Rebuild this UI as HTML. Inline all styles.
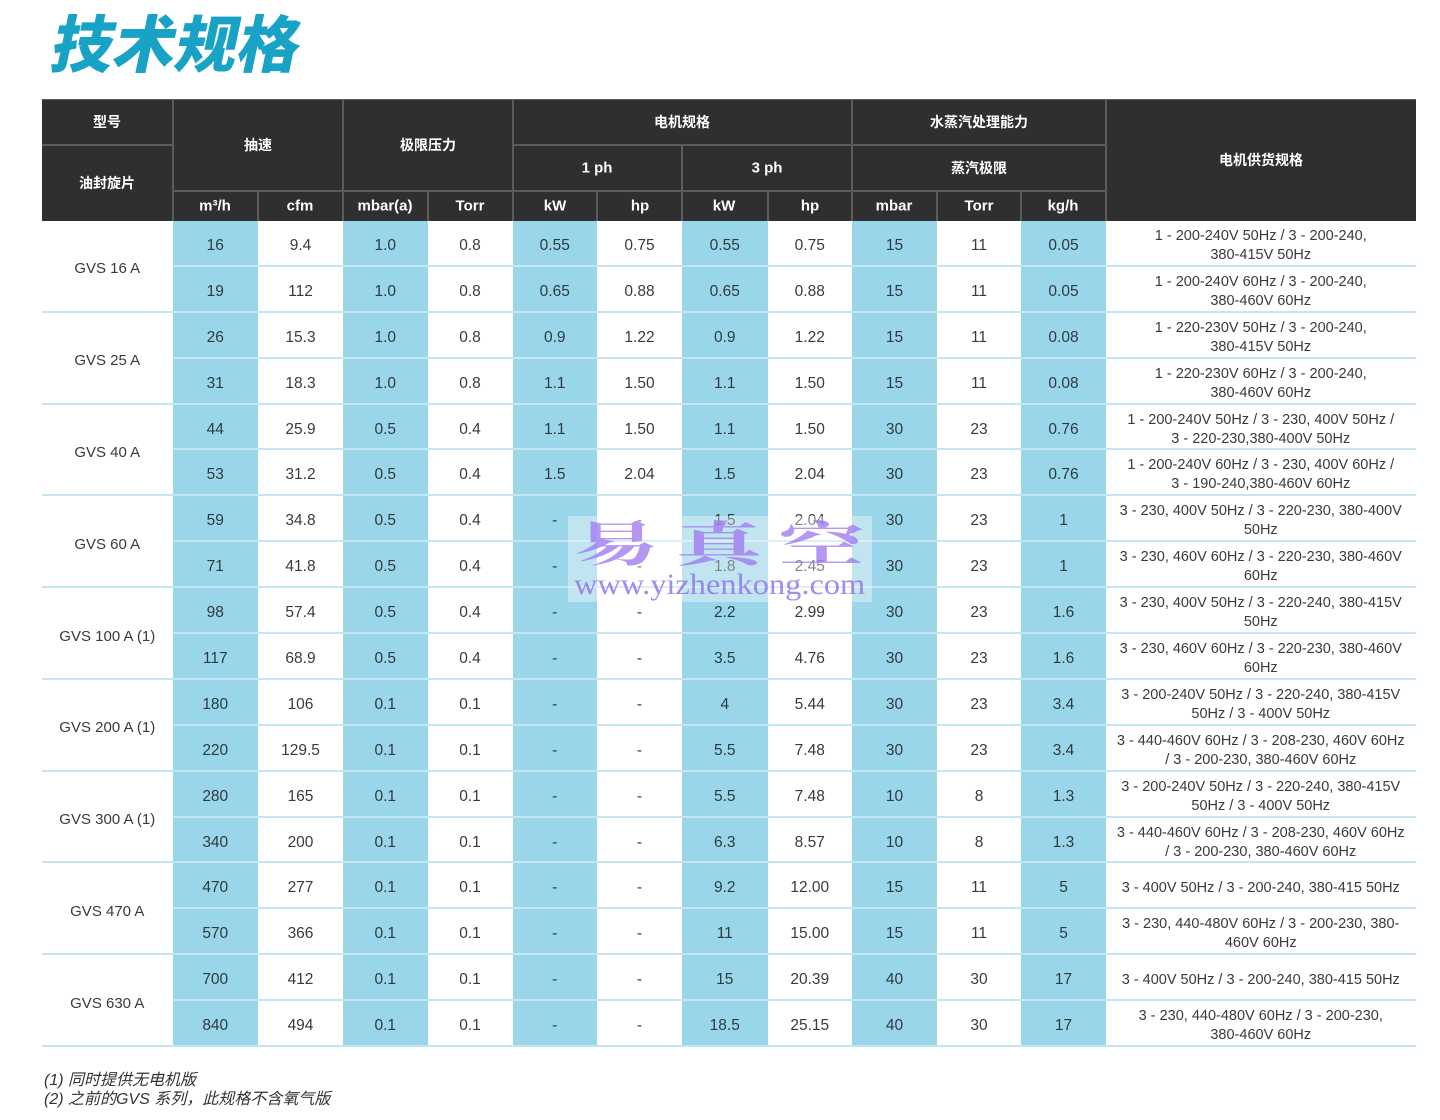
<!DOCTYPE html>
<html>
<head>
<meta charset="utf-8">
<style>
*{margin:0;padding:0;box-sizing:border-box;}
html,body{width:1440px;height:1120px;background:#fff;overflow:hidden;}
body{position:relative;font-family:"Liberation Sans","Noto Sans CJK SC",sans-serif;}
.title{position:absolute;left:46px;top:2px;font-family:"Noto Sans CJK SC",sans-serif;font-weight:900;font-size:62px;line-height:76px;color:#17a2c6;transform:skewX(-12deg);transform-origin:0 100%;letter-spacing:0px;}
.hdr{position:absolute;left:42px;top:99px;width:1373.5px;height:122px;background:#2f2f2f;border-top:1px solid #5a5a5a;}
.hl{position:absolute;background:#5c5c5c;}
.ht{position:absolute;color:#fff;font-weight:bold;font-size:14px;text-align:center;transform:translate(-50%,-50%);white-space:nowrap;font-family:"Liberation Sans","Noto Sans CJK SC",sans-serif;}
.hu{font-size:15px;}
.grid{position:absolute;left:42px;top:221px;width:1373.5px;display:grid;
grid-template-columns:130.5px 85.5px 85px 84.5px 85px 84.5px 85px 85.5px 84.5px 85px 84px 85px 309.5px;
grid-template-rows:repeat(18,45.9px);}
.grid div{display:flex;align-items:center;justify-content:center;border-bottom:2px solid #c4e6f2;padding-top:6px;font-size:15.5px;color:#3a3a3a;text-align:center;white-space:nowrap;}
.grid div.b{background:#9ad6e9;color:#2e3a3f;}
.grid div.m{grid-row:span 2;font-size:15px;color:#3a3a3a;}
.grid div.s{font-size:14.5px;line-height:19px;}
.note{position:absolute;left:44px;font-size:16px;font-style:italic;color:#333;font-family:"Liberation Sans","Noto Sans CJK SC",sans-serif;white-space:nowrap;}
.wm{position:absolute;left:568px;top:516px;width:304px;height:86px;background:rgba(255,255,255,0.38);}
.wm1{position:absolute;left:0;top:-3px;width:163px;font-family:"Noto Serif CJK SC",serif;font-weight:bold;font-size:48px;line-height:56px;letter-spacing:9px;color:rgba(160,120,240,0.78);transform:scaleX(1.8);transform-origin:0 0;margin-left:5px;white-space:nowrap;}
.wm2{position:absolute;left:6px;top:51px;font-family:"Liberation Serif",serif;font-size:30px;line-height:36px;color:rgba(140,110,235,0.8);transform:scaleX(1.08);transform-origin:0 0;white-space:nowrap;}
</style>
</head>
<body>
<div class="title">技术规格</div>

<div class="hdr"></div>
<!-- header lines -->
<div class="hl" style="left:42px;top:144px;width:131px;height:2px;"></div>
<div class="hl" style="left:512px;top:144px;width:594px;height:2px;"></div>
<div class="hl" style="left:172px;top:190px;width:934px;height:2px;"></div>
<div class="hl" style="left:171.5px;top:99px;width:2px;height:122px;"></div>
<div class="hl" style="left:342px;top:99px;width:2px;height:122px;"></div>
<div class="hl" style="left:511.5px;top:99px;width:2px;height:122px;"></div>
<div class="hl" style="left:851px;top:99px;width:2px;height:122px;"></div>
<div class="hl" style="left:1105px;top:99px;width:2px;height:122px;"></div>
<div class="hl" style="left:681px;top:145px;width:2px;height:76px;"></div>
<div class="hl" style="left:257px;top:191px;width:2px;height:30px;"></div>
<div class="hl" style="left:426.5px;top:191px;width:2px;height:30px;"></div>
<div class="hl" style="left:596px;top:191px;width:2px;height:30px;"></div>
<div class="hl" style="left:766.5px;top:191px;width:2px;height:30px;"></div>
<div class="hl" style="left:936px;top:191px;width:2px;height:30px;"></div>
<div class="hl" style="left:1020px;top:191px;width:2px;height:30px;"></div>

<!-- header text -->
<div class="ht" style="left:107px;top:122px;">型号</div>
<div class="ht" style="left:107px;top:183px;">油封旋片</div>
<div class="ht" style="left:258px;top:145px;">抽速</div>
<div class="ht" style="left:428px;top:145px;">极限压力</div>
<div class="ht" style="left:682px;top:122px;">电机规格</div>
<div class="ht hu" style="left:597px;top:168px;">1 ph</div>
<div class="ht hu" style="left:767px;top:168px;">3 ph</div>
<div class="ht" style="left:979px;top:122px;">水蒸汽处理能力</div>
<div class="ht" style="left:979px;top:168px;">蒸汽极限</div>
<div class="ht" style="left:1261px;top:160px;">电机供货规格</div>
<div class="ht hu" style="left:215px;top:206px;">m³/h</div>
<div class="ht hu" style="left:300px;top:206px;">cfm</div>
<div class="ht hu" style="left:385px;top:206px;">mbar(a)</div>
<div class="ht hu" style="left:470px;top:206px;">Torr</div>
<div class="ht hu" style="left:555px;top:206px;">kW</div>
<div class="ht hu" style="left:640px;top:206px;">hp</div>
<div class="ht hu" style="left:724px;top:206px;">kW</div>
<div class="ht hu" style="left:810px;top:206px;">hp</div>
<div class="ht hu" style="left:894px;top:206px;">mbar</div>
<div class="ht hu" style="left:979px;top:206px;">Torr</div>
<div class="ht hu" style="left:1063px;top:206px;">kg/h</div>

<div class="grid">
<!-- 1 -->
<div class="m">GVS 16 A</div><div class="b">16</div><div>9.4</div><div class="b">1.0</div><div>0.8</div><div class="b">0.55</div><div>0.75</div><div class="b">0.55</div><div>0.75</div><div class="b">15</div><div>11</div><div class="b">0.05</div><div class="s">1 - 200-240V 50Hz / 3 - 200-240,<br>380-415V 50Hz</div>
<div class="b">19</div><div>112</div><div class="b">1.0</div><div>0.8</div><div class="b">0.65</div><div>0.88</div><div class="b">0.65</div><div>0.88</div><div class="b">15</div><div>11</div><div class="b">0.05</div><div class="s">1 - 200-240V 60Hz / 3 - 200-240,<br>380-460V 60Hz</div>
<!-- 25 -->
<div class="m">GVS 25 A</div><div class="b">26</div><div>15.3</div><div class="b">1.0</div><div>0.8</div><div class="b">0.9</div><div>1.22</div><div class="b">0.9</div><div>1.22</div><div class="b">15</div><div>11</div><div class="b">0.08</div><div class="s">1 - 220-230V 50Hz / 3 - 200-240,<br>380-415V 50Hz</div>
<div class="b">31</div><div>18.3</div><div class="b">1.0</div><div>0.8</div><div class="b">1.1</div><div>1.50</div><div class="b">1.1</div><div>1.50</div><div class="b">15</div><div>11</div><div class="b">0.08</div><div class="s">1 - 220-230V 60Hz / 3 - 200-240,<br>380-460V 60Hz</div>
<!-- 40 -->
<div class="m">GVS 40 A</div><div class="b">44</div><div>25.9</div><div class="b">0.5</div><div>0.4</div><div class="b">1.1</div><div>1.50</div><div class="b">1.1</div><div>1.50</div><div class="b">30</div><div>23</div><div class="b">0.76</div><div class="s">1 - 200-240V 50Hz / 3 - 230, 400V 50Hz /<br>3 - 220-230,380-400V 50Hz</div>
<div class="b">53</div><div>31.2</div><div class="b">0.5</div><div>0.4</div><div class="b">1.5</div><div>2.04</div><div class="b">1.5</div><div>2.04</div><div class="b">30</div><div>23</div><div class="b">0.76</div><div class="s">1 - 200-240V 60Hz / 3 - 230, 400V 60Hz /<br>3 - 190-240,380-460V 60Hz</div>
<!-- 60 -->
<div class="m">GVS 60 A</div><div class="b">59</div><div>34.8</div><div class="b">0.5</div><div>0.4</div><div class="b">-</div><div>-</div><div class="b">1.5</div><div>2.04</div><div class="b">30</div><div>23</div><div class="b">1</div><div class="s">3 - 230, 400V 50Hz / 3 - 220-230, 380-400V<br>50Hz</div>
<div class="b">71</div><div>41.8</div><div class="b">0.5</div><div>0.4</div><div class="b">-</div><div>-</div><div class="b">1.8</div><div>2.45</div><div class="b">30</div><div>23</div><div class="b">1</div><div class="s">3 - 230, 460V 60Hz / 3 - 220-230, 380-460V<br>60Hz</div>
<!-- 100 -->
<div class="m">GVS 100 A (1)</div><div class="b">98</div><div>57.4</div><div class="b">0.5</div><div>0.4</div><div class="b">-</div><div>-</div><div class="b">2.2</div><div>2.99</div><div class="b">30</div><div>23</div><div class="b">1.6</div><div class="s">3 - 230, 400V 50Hz / 3 - 220-240, 380-415V<br>50Hz</div>
<div class="b">117</div><div>68.9</div><div class="b">0.5</div><div>0.4</div><div class="b">-</div><div>-</div><div class="b">3.5</div><div>4.76</div><div class="b">30</div><div>23</div><div class="b">1.6</div><div class="s">3 - 230, 460V 60Hz / 3 - 220-230, 380-460V<br>60Hz</div>
<!-- 200 -->
<div class="m">GVS 200 A (1)</div><div class="b">180</div><div>106</div><div class="b">0.1</div><div>0.1</div><div class="b">-</div><div>-</div><div class="b">4</div><div>5.44</div><div class="b">30</div><div>23</div><div class="b">3.4</div><div class="s">3 - 200-240V 50Hz / 3 - 220-240, 380-415V<br>50Hz / 3 - 400V 50Hz</div>
<div class="b">220</div><div>129.5</div><div class="b">0.1</div><div>0.1</div><div class="b">-</div><div>-</div><div class="b">5.5</div><div>7.48</div><div class="b">30</div><div>23</div><div class="b">3.4</div><div class="s">3 - 440-460V 60Hz / 3 - 208-230, 460V 60Hz<br>/ 3 - 200-230, 380-460V 60Hz</div>
<!-- 300 -->
<div class="m">GVS 300 A (1)</div><div class="b">280</div><div>165</div><div class="b">0.1</div><div>0.1</div><div class="b">-</div><div>-</div><div class="b">5.5</div><div>7.48</div><div class="b">10</div><div>8</div><div class="b">1.3</div><div class="s">3 - 200-240V 50Hz / 3 - 220-240, 380-415V<br>50Hz / 3 - 400V 50Hz</div>
<div class="b">340</div><div>200</div><div class="b">0.1</div><div>0.1</div><div class="b">-</div><div>-</div><div class="b">6.3</div><div>8.57</div><div class="b">10</div><div>8</div><div class="b">1.3</div><div class="s">3 - 440-460V 60Hz / 3 - 208-230, 460V 60Hz<br>/ 3 - 200-230, 380-460V 60Hz</div>
<!-- 470 -->
<div class="m">GVS 470 A</div><div class="b">470</div><div>277</div><div class="b">0.1</div><div>0.1</div><div class="b">-</div><div>-</div><div class="b">9.2</div><div>12.00</div><div class="b">15</div><div>11</div><div class="b">5</div><div class="s">3 - 400V 50Hz / 3 - 200-240, 380-415 50Hz</div>
<div class="b">570</div><div>366</div><div class="b">0.1</div><div>0.1</div><div class="b">-</div><div>-</div><div class="b">11</div><div>15.00</div><div class="b">15</div><div>11</div><div class="b">5</div><div class="s">3 - 230, 440-480V 60Hz / 3 - 200-230, 380-<br>460V 60Hz</div>
<!-- 630 -->
<div class="m">GVS 630 A</div><div class="b">700</div><div>412</div><div class="b">0.1</div><div>0.1</div><div class="b">-</div><div>-</div><div class="b">15</div><div>20.39</div><div class="b">40</div><div>30</div><div class="b">17</div><div class="s">3 - 400V 50Hz / 3 - 200-240, 380-415 50Hz</div>
<div class="b">840</div><div>494</div><div class="b">0.1</div><div>0.1</div><div class="b">-</div><div>-</div><div class="b">18.5</div><div>25.15</div><div class="b">40</div><div>30</div><div class="b">17</div><div class="s">3 - 230, 440-480V 60Hz / 3 - 200-230,<br>380-460V 60Hz</div>
</div>

<div class="wm">
  <div class="wm1">易真空</div>
  <div class="wm2">www.yizhenkong.com</div>
</div>

<div class="note" style="top:1066px;">(1) 同时提供无电机版</div>
<div class="note" style="top:1085px;">(2) 之前的GVS 系列，此规格不含氧气版</div>
</body>
</html>
